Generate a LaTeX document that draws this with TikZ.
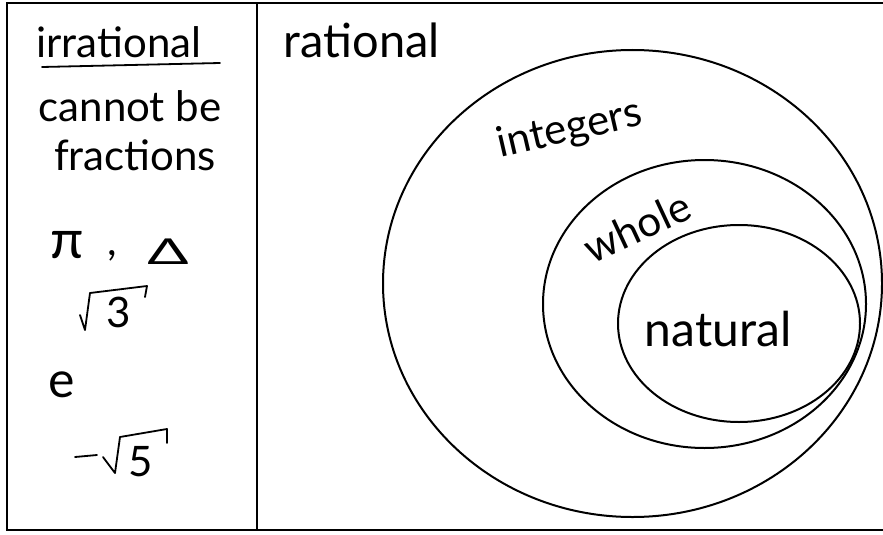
\documentclass[tikz,border=0pt]{standalone}
\usepackage{fontspec}
\setmainfont{Lato}
\begin{document}
\begin{tikzpicture}[x=1pt,y=-1pt,
  frame/.style={line width=2.6pt},
  setline/.style={line width=2pt},
  pen/.style={line width=1.8pt, line cap=round, line join=round},
  hand/.style={font=\fontsize{42}{44}\selectfont, inner sep=0pt}]
\useasboundingbox (0,0) rectangle (883,535);
% frame
\draw[frame] (883,3) -- (7,3) -- (7,530) -- (883,530);
\draw[frame] (257,3) -- (257,530);
% sets
\draw[setline] (632.5,283.5) ellipse [x radius=249.5, y radius=233.5];
\draw[setline] (704.5,304) ellipse [x radius=161.5, y radius=144];
\draw[setline] (739,323.5) ellipse [x radius=121, y radius=98.5];
% left column
\node[hand] (irr) at (119,42) {irrational};
\draw[pen] (42,67) -- (220,63);
\node[hand] (cnb) at (130,106) {cannot be};
\node[hand] (frac) at (135,155) {fractions};
\node[hand, font=\fontsize{54}{56}\selectfont] (pi) at (67,245) {π};
\node[hand] (comma) at (112,256) {,};
\node[hand] (tri) at (168,252) {\scalebox{1.45}[0.85]{Δ}};
\node[hand] (three) at (119,312) {3};
\draw[pen] (80,315) -- (85,330) -- (90,293) -- (147,286) -- (145,297);
\node[hand, font=\fontsize{50}{52}\selectfont] (e) at (62,385) {e};
\draw[pen] (75,457) -- (97,455);
\draw[pen] (103,457) -- (115,473) -- (120,437) -- (167,429) -- (167,443);
\node[hand] (five) at (141,462) {5};
% right column
\node[hand, font=\fontsize{47}{49}\selectfont] (rat) at (362,40) {rational};
\node[hand, rotate=13] (int) at (570,130) {integers};
\node[hand, rotate=25] (who) at (637,227) {whole};
\node[hand, font=\fontsize{48}{50}\selectfont] (nat) at (718,329) {natural};
\end{tikzpicture}
\end{document}
